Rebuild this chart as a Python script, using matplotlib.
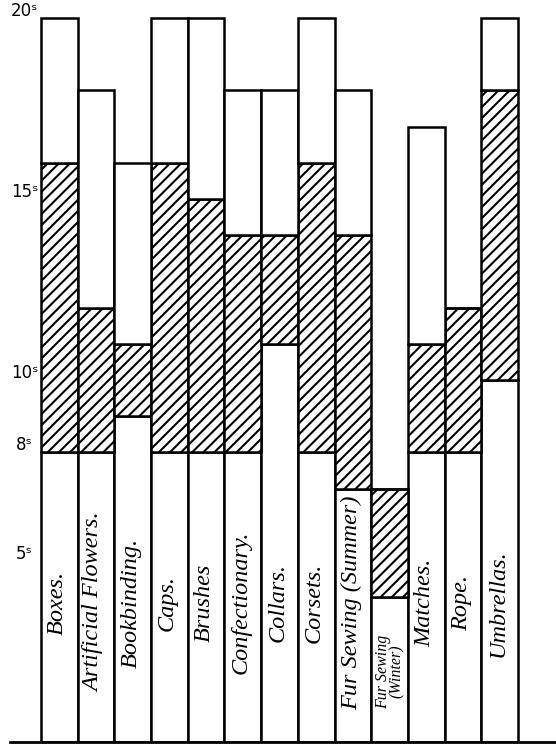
import matplotlib
matplotlib.use("Agg")
import matplotlib.pyplot as plt

# trades and weekly wages in shillings: low end, top of usual range, highest
trades = ["Boxes.", "Artificial Flowers.", "Bookbinding.", "Caps.", "Brushes",
          "Confectionary.", "Collars.", "Corsets.", "Fur Sewing (Summer)",
          "Fur Sewing\n(Winter)", "Matches.", "Rope.", "Umbrellas."]
low = [8, 8, 9, 8, 8, 8, 11, 8, 7, 4, 8, 8, 10]
mid = [16, 12, 11, 16, 15, 14, 14, 16, 14, 7, 11, 12, 18]
top = [20, 18, 16, 20, 20, 18, 18, 20, 18, 7, 17, 12, 20]

ytick_vals = [20, 15, 10, 8, 5]
ytick_labels = ["20ˢ", "15ˢ", "10ˢ", "8ˢ", "5ˢ"]

plt.rcParams["hatch.linewidth"] = 1.5
plt.rcParams["hatch.color"] = "black"

fig = plt.figure(figsize=(5.56, 7.5), dpi=100)
ax = fig.add_axes([10 / 556, 8 / 750, 546 / 556, 742 / 750])

x = list(range(len(trades)))
lw = 1.8
w = 1.0
# white foot of each bar
ax.bar(x, low, width=w, color="white", edgecolor="black", linewidth=lw)
# hatched band
band = [m - l for m, l in zip(mid, low)]
ax.bar(x, band, bottom=low, width=w, color="white", edgecolor="black",
       linewidth=lw, hatch="///")
# white cap up to the highest wage
cap = [t - m for t, m in zip(top, mid)]
ax.bar(x, cap, bottom=mid, width=w, color="white", edgecolor="black", linewidth=lw)

for i, name in enumerate(trades):
    if "\n" in name:
        ax.text(i, 1.95, name, rotation=90, ha="center", va="center",
                family="Liberation Serif", style="italic", fontsize=11.5,
                linespacing=0.8)
    else:
        ax.text(i - 0.05, 3.85, name, rotation=90, ha="center", va="center",
                family="Liberation Serif", style="italic", fontsize=17.5)

for v, lab in zip(ytick_vals, ytick_labels):
    ax.text(-0.95, v + 0.2, lab, ha="center", va="center", fontsize=12,
            family="DejaVu Sans")

ax.set_xlim(-1.345, 13.535)
ax.set_ylim(0, 20.5)
for s in ["top", "right", "left"]:
    ax.spines[s].set_visible(False)
ax.spines["bottom"].set_linewidth(2)
ax.set_xticks([])
ax.set_yticks([])
ax.patch.set_alpha(0)

fig.savefig("out.png", dpi=100)
